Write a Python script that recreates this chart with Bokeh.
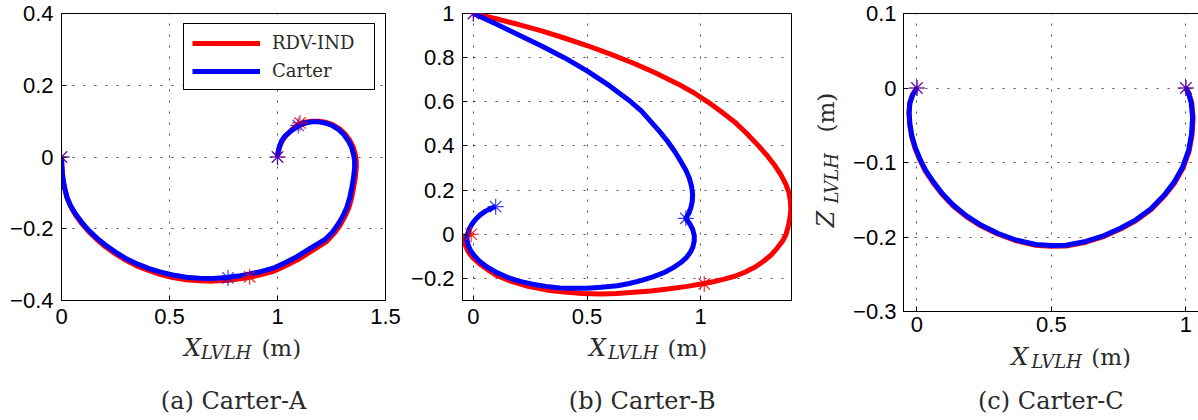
from bokeh.plotting import figure
from bokeh.models import Range1d, FixedTicker, Label, Legend, LegendItem
from bokeh.layouts import row, column
from bokeh.embed import file_html
from bokeh.resources import INLINE

# ---------------- data ----------------
series_names = ["RDV-IND", "Carter"]

# Panel (a) Carter-A
a_rdv_x = [0, 0.002, 0.006, 0.014, 0.026, 0.043, 0.065, 0.094, 0.127, 0.164, 0.205, 0.250, 0.298, 0.350, 0.406,
           0.460, 0.515, 0.577, 0.639, 0.700, 0.763, 0.817, 0.871, 0.926, 0.980, 1.035, 1.095, 1.148, 1.228, 1.262,
           1.290, 1.312, 1.330, 1.343, 1.352, 1.360, 1.365, 1.365, 1.360, 1.350, 1.335, 1.313, 1.286, 1.255, 1.222,
           1.190, 1.158, 1.128, 1.104, 1.068, 1.040, 1.022, 1.010, 1.003, 1.0]
a_rdv_y = [0, -0.030, -0.058, -0.086, -0.115, -0.139, -0.162, -0.186, -0.209, -0.230, -0.251, -0.270, -0.288, -0.304,
           -0.317, -0.328, -0.336, -0.342, -0.345, -0.346, -0.344, -0.340, -0.335, -0.328, -0.319, -0.304, -0.286,
           -0.266, -0.235, -0.213, -0.190, -0.166, -0.142, -0.114, -0.086, -0.058, -0.030, -0.011, 0.008, 0.028,
           0.046, 0.064, 0.079, 0.090, 0.097, 0.100, 0.100, 0.097, 0.093, 0.077, 0.060, 0.045, 0.028, 0.012, 0.0]
a_car_x = [0, 0.002, 0.006, 0.014, 0.026, 0.043, 0.065, 0.094, 0.127, 0.164, 0.205, 0.250, 0.298, 0.350, 0.406,
           0.460, 0.515, 0.577, 0.639, 0.700, 0.763, 0.817, 0.871, 0.926, 0.980, 1.030, 1.090, 1.140, 1.220, 1.255,
           1.282, 1.304, 1.321, 1.335, 1.344, 1.352, 1.357, 1.357, 1.352, 1.343, 1.329, 1.308, 1.282, 1.252, 1.220,
           1.190, 1.158, 1.125, 1.096, 1.063, 1.034, 1.018, 1.008, 1.002, 1.0]
a_car_y = [0, -0.030, -0.057, -0.085, -0.113, -0.137, -0.159, -0.182, -0.205, -0.226, -0.246, -0.265, -0.283, -0.298,
           -0.311, -0.321, -0.329, -0.335, -0.338, -0.339, -0.336, -0.332, -0.326, -0.319, -0.310, -0.296, -0.278,
           -0.259, -0.230, -0.209, -0.186, -0.163, -0.140, -0.112, -0.085, -0.057, -0.030, -0.011, 0.007, 0.027,
           0.044, 0.062, 0.077, 0.088, 0.095, 0.098, 0.098, 0.094, 0.086, 0.073, 0.058, 0.044, 0.027, 0.012, 0.0]
a_rdv_mx = [0, 0.871, 1.104, 1.0]
a_rdv_my = [0, -0.334, 0.095, 0.0]
a_car_mx = [0, 0.771, 1.096, 1.0]
a_car_my = [0, -0.337, 0.088, 0.0]

# Panel (b) Carter-B
b_rdv_x = [0, 0.10, 0.20, 0.30, 0.40, 0.50, 0.60, 0.70, 0.80, 0.90, 0.97, 1.031, 1.090, 1.148, 1.200, 1.251, 1.290,
           1.324, 1.353, 1.376, 1.389, 1.395, 1.397, 1.393, 1.386, 1.376, 1.360, 1.339, 1.312, 1.280, 1.240,
           1.192, 1.150, 1.104, 1.060, 1.016, 0.94, 0.855, 0.78, 0.707, 0.63, 0.561, 0.48, 0.40, 0.32, 0.24,
           0.164, 0.10, 0.062, 0.025, -0.004, -0.022, -0.034, -0.038, -0.036, -0.025, -0.010]
b_rdv_y = [1, 0.976, 0.950, 0.921, 0.889, 0.855, 0.817, 0.777, 0.732, 0.681, 0.641, 0.600, 0.556, 0.510, 0.460, 0.405,
           0.360, 0.315, 0.270, 0.225, 0.187, 0.150, 0.112, 0.075, 0.037, 0.0, -0.032, -0.060, -0.092, -0.120, -0.148,
           -0.173, -0.190, -0.203, -0.214, -0.223, -0.236, -0.248, -0.257, -0.263, -0.268, -0.270, -0.268, -0.262,
           -0.252, -0.236, -0.212, -0.185, -0.160, -0.132, -0.105, -0.080, -0.053, -0.030, -0.012, -0.003, 0.0]
b_car_x = [0, 0.1, 0.2, 0.3, 0.4, 0.5, 0.6, 0.693, 0.740, 0.781, 0.820, 0.855, 0.886, 0.913, 0.934, 0.950, 0.960,
           0.965, 0.963, 0.957, 0.947, 0.935, 0.952, 0.965, 0.972, 0.972, 0.966, 0.954, 0.937, 0.913, 0.880, 0.840,
           0.790, 0.737, 0.686, 0.634, 0.561, 0.50, 0.44, 0.38, 0.32, 0.26, 0.20, 0.150, 0.10, 0.06, 0.03, 0.005,
           -0.012, -0.023, -0.029, -0.026, -0.019, -0.006, 0.010, 0.030, 0.054, 0.076, 0.098]
b_car_y = [1, 0.952, 0.903, 0.853, 0.800, 0.740, 0.672, 0.600, 0.558, 0.510, 0.465, 0.420, 0.375, 0.330, 0.292, 0.255,
           0.218, 0.180, 0.148, 0.120, 0.094, 0.072, 0.048, 0.022, -0.005, -0.030, -0.058, -0.083, -0.106, -0.128,
           -0.151, -0.173, -0.193, -0.210, -0.223, -0.233, -0.240, -0.244, -0.245, -0.243, -0.236, -0.226, -0.212,
           -0.195, -0.172, -0.148, -0.125, -0.098, -0.075, -0.050, -0.023, 0.000, 0.023, 0.046, 0.068, 0.088,
           0.105, 0.117, 0.125]
b_rdv_mx = [0, 1.016, -0.010]
b_rdv_my = [1, -0.225, 0.0]
b_car_mx = [0, 0.935, 0.098]
b_car_my = [1, 0.072, 0.125]

# Panel (c) Carter-C
c_rdv_x = [0, -0.016, -0.027, -0.030, -0.027, -0.020, -0.007, 0.010, 0.032, 0.060, 0.094, 0.134, 0.181, 0.237,
           0.300, 0.368, 0.442, 0.498, 0.554, 0.628, 0.697, 0.759, 0.815, 0.871, 0.920, 0.959, 0.990, 1.012,
           1.023, 1.027, 1.022, 1.011, 1.0]
c_rdv_y = [0, -0.009, -0.020, -0.033, -0.049, -0.065, -0.081, -0.096, -0.112, -0.127, -0.143, -0.158, -0.172, -0.185,
           -0.196, -0.205, -0.211, -0.2125, -0.212, -0.207, -0.199, -0.189, -0.178, -0.163, -0.145, -0.127, -0.107,
           -0.085, -0.063, -0.040, -0.020, -0.007, 0.0]
c_car_x = [0, -0.016, -0.026, -0.029, -0.026, -0.019, -0.006, 0.011, 0.033, 0.061, 0.095, 0.135, 0.182, 0.238,
           0.300, 0.368, 0.442, 0.498, 0.554, 0.628, 0.696, 0.758, 0.814, 0.870, 0.919, 0.957, 0.988, 1.010,
           1.021, 1.025, 1.020, 1.010, 1.0]
c_car_y = [0, -0.009, -0.020, -0.033, -0.049, -0.064, -0.080, -0.095, -0.111, -0.126, -0.142, -0.157, -0.171, -0.184,
           -0.195, -0.204, -0.210, -0.2115, -0.211, -0.206, -0.198, -0.188, -0.177, -0.162, -0.144, -0.126, -0.106,
           -0.084, -0.062, -0.040, -0.020, -0.007, 0.0]
c_rdv_mx = [0, 1.0]
c_rdv_my = [0, 0.0]
c_car_mx = [0, 1.0]
c_car_my = [0, 0.0]

# ticks
a_xticks = [0, 0.5, 1, 1.5]
a_xtick_labels = ["0", "0.5", "1", "1.5"]
a_yticks = [-0.4, -0.2, 0, 0.2, 0.4]
a_ytick_labels = ["\u22120.4", "\u22120.2", "0", "0.2", "0.4"]
b_xticks = [0, 0.5, 1]
b_xtick_labels = ["0", "0.5", "1"]
b_yticks = [-0.2, 0, 0.2, 0.4, 0.6, 0.8, 1]
b_ytick_labels = ["\u22120.2", "0", "0.2", "0.4", "0.6", "0.8", "1"]
c_xticks = [0, 0.5, 1]
c_xtick_labels = ["0", "0.5", "1"]
c_yticks = [-0.3, -0.2, -0.1, 0, 0.1]
c_ytick_labels = ["\u22120.3", "\u22120.2", "\u22120.1", "0", "0.1"]

captions = ["(a) Carter-A", "(b) Carter-B", "(c) Carter-C"]

RED = "#ff0000"
BLUE = "#0000ff"
TXT = "#2a2a2a"
SERIF = "DejaVu Serif"
SANS = "Liberation Sans"


def make_fig(xr, yr, xt, xtl, yt, ytl, fw, fh, bl, br, bt, bb, xstand, ystand=8):
    p = figure(frame_width=fw, frame_height=fh, x_range=Range1d(*xr), y_range=Range1d(*yr),
               output_backend="svg", toolbar_location=None,
               min_border_left=bl, min_border_right=br, min_border_top=bt, min_border_bottom=bb)
    p.background_fill_color = "white"
    p.border_fill_color = "white"
    p.outline_line_color = "black"
    p.outline_line_width = 1
    p.outline_line_alpha = 1
    p.xaxis.ticker = FixedTicker(ticks=xt)
    p.yaxis.ticker = FixedTicker(ticks=yt)
    p.xaxis.major_label_overrides = {float(k): v for k, v in zip(xt, xtl)}
    p.yaxis.major_label_overrides = {float(k): v for k, v in zip(yt, ytl)}
    for ax in (p.xaxis[0], p.yaxis[0]):
        ax.axis_line_color = "black"
        ax.major_tick_in = 5
        ax.major_tick_out = 0
        ax.minor_tick_in = 0
        ax.minor_tick_out = 0
        ax.major_tick_line_color = "black"
        ax.major_label_text_font = SANS
        ax.major_label_text_font_size = "22px"
        ax.major_label_text_color = "black"
    p.xaxis.major_label_standoff = xstand
    p.yaxis.major_label_standoff = ystand
    for g in (p.xgrid[0], p.ygrid[0]):
        g.grid_line_color = "#222222"
        g.grid_line_dash = "2 9"
        g.grid_line_width = 1
        g.grid_line_alpha = 0.8
    return p


def text_fig(w, h):
    f = figure(width=w, height=h, x_range=Range1d(0, w), y_range=Range1d(h, 0),
               x_axis_type=None, y_axis_type=None, output_backend="svg", toolbar_location=None,
               min_border=0)
    f.outline_line_color = None
    f.background_fill_color = "white"
    f.border_fill_color = "white"
    f.xgrid.visible = False
    f.ygrid.visible = False
    return f


def draw(p, rx, ry, cx, cy, rmx, rmy, cmx, cmy):
    r1 = p.line(rx, ry, line_color=RED, line_width=5, line_join="round")
    r2 = p.line(cx, cy, line_color=BLUE, line_width=5, line_join="round")
    p.scatter(rmx, rmy, marker="asterisk", size=16, line_color=RED, line_width=1.2, line_alpha=0.85)
    p.scatter(cmx, cmy, marker="asterisk", size=16, line_color=BLUE, line_width=1.2, line_alpha=0.75)
    return r1, r2


def lab(f, x, y, text, size, style="normal", angle=0, align="left"):
    # (x, y) is the point on the text's baseline; text is anchored on its middle line
    px = float(size.replace("px", ""))
    shift = 0.32 * px
    if angle == 0:
        y = y - shift
    else:
        x = x - shift
    f.add_layout(Label(x=x, y=y, text=text, text_font=SERIF, text_font_size=size,
                       text_font_style=style, text_color=TXT, text_align=align,
                       text_baseline="middle", angle=angle, angle_units="deg"))


def xlabel(f, x0, xs, xm, base, sub_base):
    lab(f, x0, base, "X", "24px", "italic")
    lab(f, xs, sub_base, "LVLH", "18px", "italic")
    lab(f, xm, base, "(m)", "23px")


# ---- panel a ----
pa = make_fig((0, 1.5), (-0.4, 0.4), a_xticks, a_xtick_labels, a_yticks, a_ytick_labels,
              324, 287, 61, 17, 13, 34, 8)
ra1, ra2 = draw(pa, a_rdv_x, a_rdv_y, a_car_x, a_car_y, a_rdv_mx, a_rdv_my, a_car_mx, a_car_my)
leg = Legend(items=[LegendItem(label=series_names[0], renderers=[ra1]),
                    LegendItem(label=series_names[1], renderers=[ra2])],
             location="top_right", margin=10, padding=8, spacing=7,
             glyph_width=68, glyph_height=20, label_height=20, label_width=94, label_standoff=12,
             label_text_font=SERIF, label_text_font_size="18px", label_text_color=TXT,
             border_line_color="black", border_line_width=1, border_line_alpha=1,
             background_fill_color="white", background_fill_alpha=1)
pa.add_layout(leg, "center")
ta = text_fig(402, 86)
xlabel(ta, 152, 173, 248, 21, 24)
lab(ta, 213.5, 74, captions[0], "24px", align="center")

# ---- panel b ----
pb = make_fig((-0.048, 1.40), (-0.3, 1.0), b_xticks, b_xtick_labels, b_yticks, b_ytick_labels,
              329, 287, 60, 9, 13, 34, 8)
draw(pb, b_rdv_x, b_rdv_y, b_car_x, b_car_y, b_rdv_mx, b_rdv_my, b_car_mx, b_car_my)
tb = text_fig(398, 86)
xlabel(tb, 153, 176, 248, 21, 24)
lab(tb, 217.5, 74, captions[1], "24px", align="center")

# ---- y label strip for panel c ----
ty = text_fig(50, 420)
lab(ty, 33, 227, "Z", "24px", "italic", 90)
lab(ty, 37, 203, "LVLH", "18px", "italic", 90)
lab(ty, 33, 132, "(m)", "23px", "normal", 90)

# ---- panel c ----
pc = make_fig((-0.05, 1.047), (-0.3, 0.1), c_xticks, c_xtick_labels, c_yticks, c_ytick_labels,
              295, 298, 51, 2, 13, 32, 5, 7)
draw(pc, c_rdv_x, c_rdv_y, c_car_x, c_car_y, c_rdv_mx, c_rdv_my, c_car_mx, c_car_my)
tc = text_fig(348, 77)
xlabel(tc, 128, 152, 223, 21, 24)
lab(tc, 175, 65, captions[2], "24px", align="center")

layout = row(column(pa, ta), column(pb, tb), ty, column(pc, tc))
open("out.html", "w").write(file_html(layout, INLINE))
